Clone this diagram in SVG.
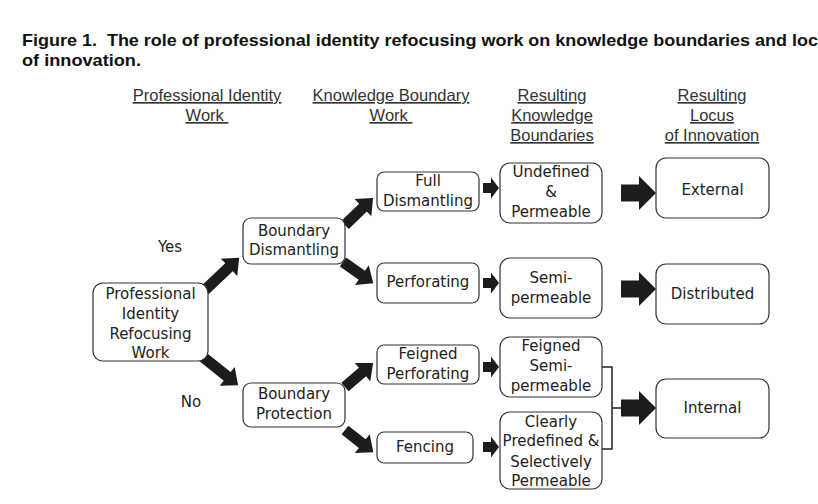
<svg xmlns="http://www.w3.org/2000/svg" width="818" height="504" viewBox="0 0 818 504">
<style>
.title{font-family:"Liberation Sans",Arial,sans-serif;font-weight:bold;font-size:17px;fill:#111}
.hdr{font-family:"Liberation Sans",Arial,sans-serif;font-size:16.5px;fill:#333;text-anchor:middle;text-decoration:underline}
.box{fill:#fff;stroke:#333;stroke-width:1.2}
.t{font-family:"DejaVu Sans","Liberation Sans",sans-serif;font-size:15px;fill:#222;text-anchor:middle}
.lbl{font-family:"DejaVu Sans","Liberation Sans",sans-serif;font-size:15px;fill:#222;text-anchor:middle}
.arr{fill:#1c1c1c}
.br{fill:none;stroke:#222;stroke-width:1.5}
</style>
<defs>
<polygon id="sm" points="0,-5 8,-5 8,-10.5 16,0 8,10.5 8,5 0,5"/>
<polygon id="big" points="0,-8.5 18,-8.5 18,-17 35,0 18,17 18,8.5 0,8.5"/>
</defs>
<rect width="818" height="504" fill="#fff"/>
<text class="title" x="22" y="46" textLength="796" lengthAdjust="spacingAndGlyphs" xml:space="preserve">Figure 1.  The role of professional identity refocusing work on knowledge boundaries and loc</text>
<text class="title" x="22" y="66" textLength="119" lengthAdjust="spacingAndGlyphs">of innovation.</text>
<g id="headers">
<text class="hdr" x="207" y="101">Professional Identity</text>
<text class="hdr" x="207" y="121" xml:space="preserve">Work </text>
<text class="hdr" x="391" y="101">Knowledge Boundary</text>
<text class="hdr" x="391" y="121" xml:space="preserve">Work </text>
<text class="hdr" x="552" y="101">Resulting</text>
<text class="hdr" x="552" y="121">Knowledge</text>
<text class="hdr" x="552" y="141">Boundaries</text>
<text class="hdr" x="712" y="101">Resulting</text>
<text class="hdr" x="712" y="121">Locus</text>
<text class="hdr" x="712" y="141">of Innovation</text>
</g>
<text class="lbl" x="170" y="252">Yes</text>
<text class="lbl" x="191" y="407">No</text>
<g id="connectors">
<polygon class="arr" transform="translate(205,290) rotate(-43.3)" points="0,-5.5 33,-5.5 33,-12 47,0 33,12 33,5.5 0,5.5"/>
<polygon class="arr" transform="translate(203,357) rotate(38.7)" points="0,-5.5 31,-5.5 31,-12 45,0 31,12 31,5.5 0,5.5"/>
<polygon class="arr" transform="translate(345,225) rotate(-44)" points="0,-5.5 25,-5.5 25,-12 39,0 25,12 25,5.5 0,5.5"/>
<polygon class="arr" transform="translate(343,262) rotate(35)" points="0,-5.5 23,-5.5 23,-12 37,0 23,12 23,5.5 0,5.5"/>
<polygon class="arr" transform="translate(345,387) rotate(-40.6)" points="0,-5.5 23,-5.5 23,-12 37,0 23,12 23,5.5 0,5.5"/>
<polygon class="arr" transform="translate(345,430) rotate(38.2)" points="0,-5.5 22,-5.5 22,-12 36,0 22,12 22,5.5 0,5.5"/>
<use href="#sm" class="arr" x="483" y="188"/>
<use href="#sm" class="arr" x="483" y="283"/>
<use href="#sm" class="arr" x="483" y="367"/>
<use href="#sm" class="arr" x="483" y="447"/>
<use href="#big" class="arr" x="621" y="193"/>
<use href="#big" class="arr" x="621" y="289"/>
<use href="#big" class="arr" x="621" y="408"/>
<path class="br" d="M602,367 H612 V449 H602 M612,408 H622"/>
</g>
<g id="n-prof"><rect class="box" x="93" y="283" width="115" height="78" rx="10"/>
<text class="t" x="150.5" y="299">Professional</text><text class="t" x="150.5" y="319">Identity</text><text class="t" x="150.5" y="339">Refocusing</text><text class="t" x="150.5" y="358">Work</text></g>
<g id="n-bd"><rect class="box" x="243" y="218" width="102" height="46" rx="8"/>
<text class="t" x="294" y="236">Boundary</text><text class="t" x="294" y="255">Dismantling</text></g>
<g id="n-bp"><rect class="box" x="243" y="383" width="102" height="44" rx="8"/>
<text class="t" x="294" y="399">Boundary</text><text class="t" x="294" y="419">Protection</text></g>
<g id="n-full"><rect class="box" x="377" y="172" width="102" height="39" rx="7"/>
<text class="t" x="428" y="186">Full</text><text class="t" x="428" y="206">Dismantling</text></g>
<g id="n-perf"><rect class="box" x="377" y="263" width="102" height="40" rx="7"/>
<text class="t" x="428" y="287">Perforating</text></g>
<g id="n-fperf"><rect class="box" x="377" y="345" width="102" height="39" rx="7"/>
<text class="t" x="428" y="359">Feigned</text><text class="t" x="428" y="379">Perforating</text></g>
<g id="n-fenc"><rect class="box" x="377" y="432" width="96" height="31" rx="7"/>
<text class="t" x="425" y="452">Fencing</text></g>
<g id="n-undef"><rect class="box" x="500" y="163" width="102" height="60" rx="10"/>
<text class="t" x="551" y="177">Undefined</text><text class="t" x="551" y="197">&amp;</text><text class="t" x="551" y="217">Permeable</text></g>
<g id="n-semi"><rect class="box" x="500" y="258" width="102" height="60" rx="10"/>
<text class="t" x="551" y="283">Semi-</text><text class="t" x="551" y="303">permeable</text></g>
<g id="n-fsemi"><rect class="box" x="500" y="337" width="102" height="60" rx="10"/>
<text class="t" x="551" y="351">Feigned</text><text class="t" x="551" y="371">Semi-</text><text class="t" x="551" y="391">permeable</text></g>
<g id="n-clear"><rect class="box" x="500" y="412" width="102" height="77" rx="10"/>
<text class="t" x="551" y="427">Clearly</text><text class="t" x="551" y="446">Predefined &amp;</text><text class="t" x="551" y="467">Selectively</text><text class="t" x="551" y="486">Permeable</text></g>
<g id="n-ext"><rect class="box" x="656" y="158" width="113" height="60" rx="10"/>
<text class="t" x="712.5" y="195">External</text></g>
<g id="n-dist"><rect class="box" x="656" y="264" width="113" height="60" rx="10"/>
<text class="t" x="712.5" y="299">Distributed</text></g>
<g id="n-int"><rect class="box" x="656" y="379" width="113" height="59" rx="10"/>
<text class="t" x="712.5" y="413">Internal</text></g>
</svg>
